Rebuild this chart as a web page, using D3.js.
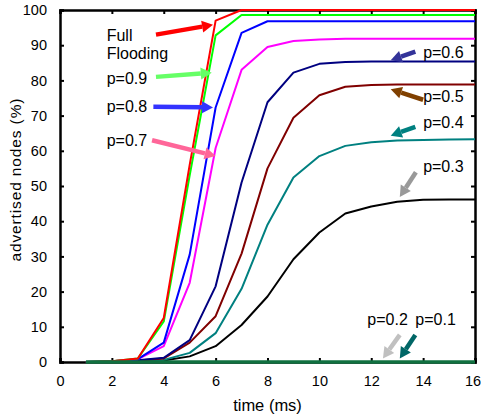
<!DOCTYPE html>
<html>
<head>
<meta charset="utf-8">
<script src="https://cdn.jsdelivr.net/npm/d3@7"></script>
<style>
  body { margin: 0; background: #fff; }
  svg text { font-family: "Liberation Sans", Arial, sans-serif; fill: #000; }
</style>
</head>
<body>
<div id="container"></div>
<script>
// chart data
const times = [1, 2, 3, 4, 5, 6, 7, 8, 9, 10, 11, 12, 13, 14, 15, 16];
const fullFlooding = [0, 0.2, 1, 12.5, 56, 97, 100, 100, 100, 100, 100, 100, 100, 100, 100, 100];
const p09 = [0, 0.2, 1, 11.5, 53, 92.8, 98.6, 98.6, 98.6, 98.6, 98.6, 98.6, 98.6, 98.6, 98.6, 98.6];
const p08 = [0, 0.2, 0.8, 5.5, 30.5, 72.3, 93.5, 96.8, 96.8, 96.8, 96.8, 96.8, 96.8, 96.8, 96.8, 96.8];
const p07 = [0, 0.2, 0.8, 4.5, 22.5, 60.8, 83, 89.5, 91.2, 91.6, 91.8, 91.8, 91.8, 91.8, 91.8, 91.8];
const p06 = [0, 0.1, 0.5, 1.2, 6.2, 21.5, 51, 73.8, 82.2, 84.7, 85.2, 85.4, 85.4, 85.4, 85.4, 85.4];
const p05 = [0, 0.1, 0.4, 1, 5.5, 13, 30.8, 55, 69.4, 75.8, 78.2, 78.7, 78.8, 78.8, 78.8, 78.8];
const p04 = [0, 0.1, 0.3, 0.6, 2.6, 8.2, 20.8, 39, 52.4, 58.5, 61.4, 62.4, 62.9, 63.1, 63.2, 63.3];
const p03 = [0, 0, 0.2, 0.4, 1.6, 4.5, 10.5, 18.6, 29.2, 36.8, 42.2, 44.2, 45.5, 46.1, 46.2, 46.2];
const p02 = [0, 0, 0, 0, 0, 0, 0, 0, 0, 0, 0, 0, 0, 0, 0, 0];
const p01 = [0, 0, 0, 0, 0, 0, 0, 0, 0, 0, 0, 0, 0, 0, 0, 0];

const xTicks = [0, 2, 4, 6, 8, 10, 12, 14, 16];
const yTicks = [0, 10, 20, 30, 40, 50, 60, 70, 80, 90, 100];

const width = 481, height = 419,
  margin = {top: 10, right: 6, bottom: 57, left: 60};

const series = [
  {name: "p=0.2", values: p02, color: "#c0c0c0", w: 2},
  {name: "p=0.3", values: p03, color: "#000000", w: 2},
  {name: "p=0.4", values: p04, color: "#008080", w: 2},
  {name: "p=0.5", values: p05, color: "#800000", w: 2},
  {name: "p=0.6", values: p06, color: "#000080", w: 2},
  {name: "p=0.7", values: p07, color: "#ff00ff", w: 2},
  {name: "p=0.8", values: p08, color: "#0000ff", w: 2},
  {name: "p=0.9", values: p09, color: "#00ff00", w: 2},
  {name: "Full Flooding", values: fullFlooding, color: "#ff0000", w: 2},
  {name: "p=0.1", values: p01, color: "#107040", w: 3.5}
];

// annotation arrows: [tail x, tail y, head x, head y] in data units
const notes = [
  {lines: ["Full", "Flooding"], tx: 1.8, ty: 91.3, color: "#ff0000", a: [3.7, 93.0, 5.9, 95.8]},
  {lines: ["p=0.9"], tx: 1.8, ty: 79, color: "#66ff66", a: [3.7, 81.0, 5.85, 82.2]},
  {lines: ["p=0.8"], tx: 1.8, ty: 71.1, color: "#3333ff", a: [3.6, 72.5, 5.9, 72.3]},
  {lines: ["p=0.7"], tx: 1.8, ty: 61.5, color: "#ff6699", a: [3.55, 63.0, 6.0, 58.5]},
  {lines: ["p=0.6"], tx: 14, ty: 86.3, color: "#333399", a: [13.7, 88.2, 12.75, 85.7]},
  {lines: ["p=0.5"], tx: 14, ty: 74.0, color: "#804000", a: [14.0, 74.5, 12.75, 77.5]},
  {lines: ["p=0.4"], tx: 14, ty: 66.4, color: "#008080", a: [13.7, 66.8, 12.75, 64.3]},
  {lines: ["p=0.3"], tx: 14, ty: 54.0, color: "#999999", a: [13.72, 53.9, 13.1, 46.9]},
  {lines: ["p=0.2"], tx: 11.85, ty: 10.5, color: "#c0c0c0", a: [13.1, 7.7, 12.45, 1.0]},
  {lines: ["p=0.1"], tx: 13.7, ty: 10.5, color: "#006666", a: [13.7, 7.7, 13.1, 1.0]}
];

const svg = d3.select("#container").append("svg")
  .attr("width", width)
  .attr("height", height);

const xScale = d3.scaleLinear().domain([0, 16]).range([margin.left, width - margin.right]);
const yScale = d3.scaleLinear().domain([0, 100]).range([height - margin.bottom, margin.top]);

// axes, ticks pointing inwards on all four sides
const tickLen = 4;
svg.append("g")
  .attr("transform", `translate(0,${yScale(0)})`)
  .call(d3.axisBottom(xScale).tickValues(xTicks).tickSize(-tickLen).tickPadding(14))
  .call(g => g.selectAll("text").attr("font-size", "14.5px")
    .attr("dx", d => d === 16 ? -2.5 : 0));
svg.append("g")
  .attr("transform", `translate(0,${yScale(100)})`)
  .call(d3.axisTop(xScale).tickValues(xTicks).tickSize(-tickLen).tickFormat(""));
svg.append("g")
  .attr("transform", `translate(${xScale(0)},0)`)
  .call(d3.axisLeft(yScale).tickValues(yTicks).tickSize(-tickLen).tickPadding(13))
  .call(g => g.selectAll("text").attr("font-size", "14.5px"));
svg.append("g")
  .attr("transform", `translate(${xScale(16)},0)`)
  .call(d3.axisRight(yScale).tickValues(yTicks).tickSize(-tickLen).tickFormat(""));

svg.selectAll(".domain").attr("stroke", "#000").attr("stroke-width", 2.5);
svg.selectAll(".tick line").attr("stroke", "#000").attr("stroke-width", 2);

// axis titles
svg.append("text")
  .attr("x", (xScale(0) + xScale(16)) / 2)
  .attr("y", height - 8)
  .attr("text-anchor", "middle")
  .attr("font-size", "16.5px")
  .text("time (ms)");
svg.append("text")
  .attr("transform", `translate(21,${yScale(50) - 6}) rotate(-90)`)
  .attr("text-anchor", "middle")
  .attr("font-size", "15.5px")
  .attr("textLength", 163)
  .attr("lengthAdjust", "spacing")
  .text("advertised nodes (%)");

// lines
const line = d3.line()
  .x((d, i) => xScale(times[i]))
  .y(d => yScale(d));

svg.append("g").selectAll("path")
  .data(series)
  .join("path")
  .attr("d", d => line(d.values))
  .attr("fill", "none")
  .attr("stroke", d => d.color)
  .attr("stroke-width", d => d.w)
  .attr("stroke-linejoin", "round");

// annotations
const notesG = svg.append("g");
notes.forEach(n => {
  const x1 = xScale(n.a[0]), y1 = yScale(n.a[1]);
  const x2 = xScale(n.a[2]), y2 = yScale(n.a[3]);
  const ang = Math.atan2(y2 - y1, x2 - x1);
  const headL = 11, headW = 6;
  const bx = x2 - headL * Math.cos(ang), by = y2 - headL * Math.sin(ang);
  notesG.append("line")
    .attr("x1", x1).attr("y1", y1).attr("x2", bx).attr("y2", by)
    .attr("stroke", n.color).attr("stroke-width", 4.5);
  const px = -Math.sin(ang) * headW, py = Math.cos(ang) * headW;
  notesG.append("path")
    .attr("d", `M${x2},${y2}L${bx + px},${by + py}L${bx - px},${by - py}Z`)
    .attr("fill", n.color);

  notesG.append("text")
    .attr("x", xScale(n.tx))
    .attr("y", yScale(n.ty))
    .attr("font-size", "16px")
    .selectAll("tspan")
    .data(n.lines)
    .join("tspan")
    .attr("x", xScale(n.tx))
    .attr("dy", (d, i) => i ? 18 : 0)
    .text(d => d);
});
</script>
</body>
</html>
